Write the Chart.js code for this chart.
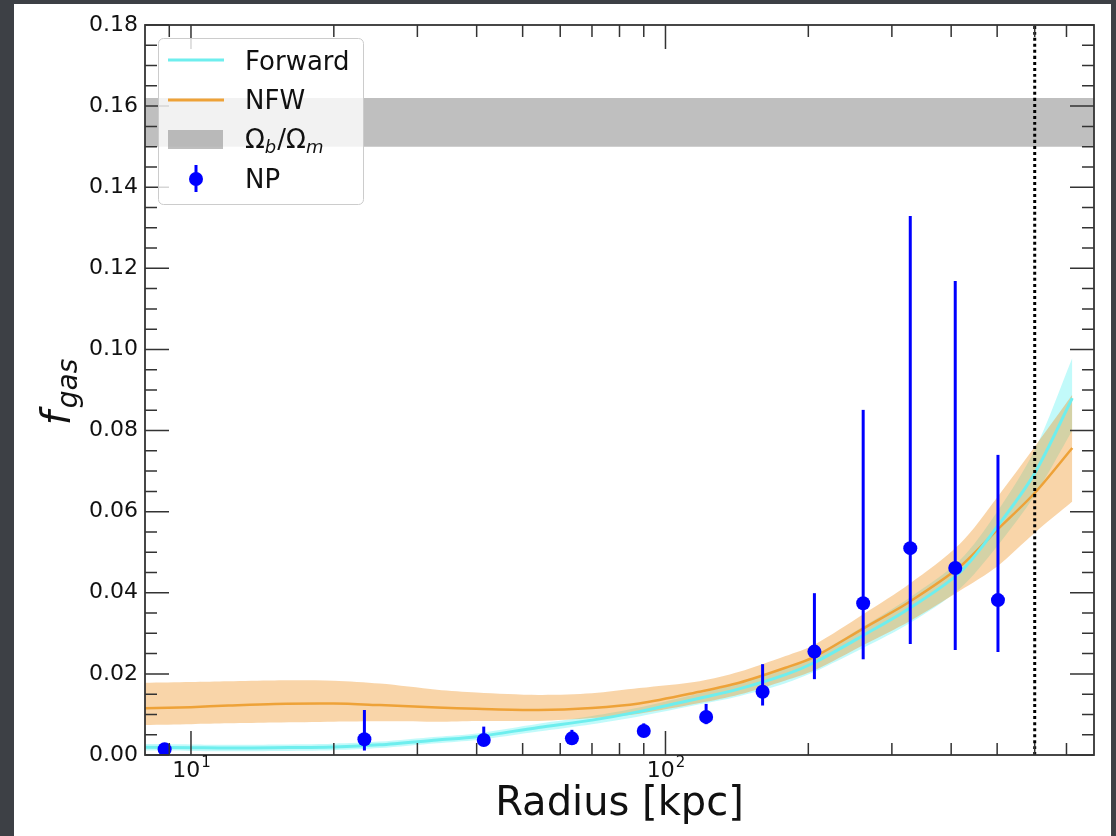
<!DOCTYPE html>
<html>
<head>
<meta charset="utf-8">
<script src="https://cdn.jsdelivr.net/npm/chart.js@4.4.1/dist/chart.umd.min.js"></script>
<style>
html, body { margin: 0; padding: 0; background: #3d4045; }
canvas { display: block; }
</style>
</head>
<body>
<canvas id="fgaschart" width="1116" height="836"></canvas>
<script>
// radius grid of the model curves (kpc)
var modelR = [8, 10, 12, 15, 20, 25, 33, 40, 54, 70, 88, 118, 143, 179, 206, 262, 327, 417, 500, 600, 720];

// Forward model
var forwardMid = [0.0019, 0.0018, 0.0017, 0.0018, 0.0020, 0.0025, 0.0037, 0.0045, 0.0068, 0.0086, 0.0107, 0.0140, 0.0163, 0.0198, 0.0228, 0.0296, 0.0362, 0.0450, 0.0563, 0.0695, 0.0880];
var forwardHi  = [0.0027, 0.0026, 0.0025, 0.0026, 0.0028, 0.0033, 0.0045, 0.0053, 0.0077, 0.0096, 0.0117, 0.0152, 0.0177, 0.0214, 0.0245, 0.0318, 0.0388, 0.0480, 0.0600, 0.0752, 0.0979];
var forwardLo  = [0.0011, 0.0010, 0.0009, 0.0010, 0.0012, 0.0017, 0.0029, 0.0037, 0.0058, 0.0076, 0.0095, 0.0125, 0.0145, 0.0177, 0.0205, 0.0265, 0.0325, 0.0410, 0.0515, 0.0640, 0.0800];

// NFW model
var nfwMid = [0.0115, 0.0118, 0.0122, 0.0126, 0.0127, 0.0123, 0.0117, 0.0114, 0.0111, 0.0116, 0.0127, 0.0156, 0.0178, 0.0215, 0.0242, 0.0313, 0.0378, 0.0464, 0.0555, 0.0646, 0.0757];
var nfwHi  = [0.0178, 0.0180, 0.0182, 0.0184, 0.0183, 0.0176, 0.0161, 0.0154, 0.0148, 0.0152, 0.0165, 0.0182, 0.0205, 0.0244, 0.0272, 0.0348, 0.0422, 0.0520, 0.0635, 0.0760, 0.0888];
var nfwLo  = [0.0074, 0.0076, 0.0078, 0.0080, 0.0082, 0.0083, 0.0082, 0.0084, 0.0084, 0.0091, 0.0102, 0.0128, 0.0149, 0.0184, 0.0209, 0.0272, 0.0330, 0.0405, 0.0465, 0.0548, 0.0625];

// NP (non-parametric) points
var npR  = [8.8, 23.2, 41.4, 63.5, 90.0, 121.8, 160.2, 206, 261, 328, 408, 502];
var npF  = [0.0014, 0.0039, 0.0037, 0.0041, 0.0059, 0.0094, 0.0156, 0.0255, 0.0374, 0.0510, 0.0461, 0.0382];
var npLo = [0.0010, 0.0011, 0.0025, 0.0030, 0.0045, 0.0076, 0.0122, 0.0187, 0.0236, 0.0274, 0.0259, 0.0254];
var npHi = [0.0018, 0.0111, 0.0070, 0.0062, 0.0078, 0.0126, 0.0224, 0.0399, 0.0851, 0.1329, 0.1169, 0.0740];

// cosmic baryon fraction band and r500 marker
var baryonBand = [0.150, 0.162];
var r500 = 600;

// axes
var xRange = [8, 800];
var yRange = [0, 0.18];
var xMajorTicks = [10, 100];
var xMinorTicks = [9, 20, 30, 40, 50, 60, 70, 80, 90, 200, 300, 400, 500, 600, 700];
var yMajorTicks = [0, 0.02, 0.04, 0.06, 0.08, 0.10, 0.12, 0.14, 0.16, 0.18];
var yMinorStep = 0.005;

var FONT = "'DejaVu Sans', sans-serif";
var cyanLine = '#6eeeee', cyanBand = 'rgba(0,235,235,0.24)';
var orangeLine = '#eea238', orangeBand = 'rgba(240,150,40,0.40)';
var greyBand = 'rgba(128,128,128,0.5)';
var npColor = '#0000ff';
var axisColor = '#333333';

function pts(xs, ys) {
    return xs.map(function (x, i) { return { x: x, y: ys[i] }; });
}

var NP_INDEX = 9;

var decor = {
    id: 'decor',
    beforeDraw: function (chart) {
        var c = chart.ctx;
        c.save();
        c.fillStyle = '#3d4045';
        c.fillRect(0, 0, chart.width, chart.height);
        c.fillStyle = '#ffffff';
        c.fillRect(14, 4, 1097, 832);
        c.restore();
    },
    beforeDatasetDraw: function (chart, args) {
        if (args.index !== NP_INDEX) return;
        var c = chart.ctx, xs = chart.scales.x, ys = chart.scales.y;
        c.save();
        c.strokeStyle = npColor;
        c.lineWidth = 3;
        for (var i = 0; i < npR.length; i++) {
            var px = xs.getPixelForValue(npR[i]);
            c.beginPath();
            c.moveTo(px, ys.getPixelForValue(npLo[i]));
            c.lineTo(px, ys.getPixelForValue(npHi[i]));
            c.stroke();
        }
        c.restore();
    },
    afterDraw: function (chart) {
        var c = chart.ctx, a = chart.chartArea;
        var xs = chart.scales.x, ys = chart.scales.y;
        c.save();

        // inward ticks on all sides
        c.strokeStyle = axisColor;
        c.lineWidth = 1.5;
        function tickX(v, len) {
            var px = xs.getPixelForValue(v);
            c.beginPath();
            c.moveTo(px, a.bottom); c.lineTo(px, a.bottom - len);
            c.moveTo(px, a.top); c.lineTo(px, a.top + len);
            c.stroke();
        }
        function tickY(v, len) {
            var py = ys.getPixelForValue(v);
            c.beginPath();
            c.moveTo(a.left, py); c.lineTo(a.left + len, py);
            c.moveTo(a.right, py); c.lineTo(a.right - len, py);
            c.stroke();
        }
        xMajorTicks.forEach(function (v) { tickX(v, 24); });
        xMinorTicks.forEach(function (v) { tickX(v, 12); });
        yMajorTicks.forEach(function (v) { tickY(v, 24); });
        for (var k = 0; k * yMinorStep <= yRange[1] + 1e-9; k++) {
            if (k % 4 !== 0) tickY(k * yMinorStep, 12);
        }

        // spines
        c.lineWidth = 1.8;
        c.strokeRect(a.left, a.top, a.right - a.left, a.bottom - a.top);

        // x tick labels 10^n
        c.fillStyle = '#111';
        c.textBaseline = 'alphabetic';
        c.textAlign = 'left';
        xMajorTicks.forEach(function (v) {
            var px = xs.getPixelForValue(v);
            var base = '10', sup = String(Math.round(Math.log10(v)));
            c.font = '22px ' + FONT;
            var w1 = c.measureText(base).width;
            c.font = '15px ' + FONT;
            var w2 = c.measureText(sup).width;
            var x0 = px - (w1 + w2) / 2;
            c.font = '22px ' + FONT;
            c.fillText(base, x0, 777);
            c.font = '15px ' + FONT;
            c.fillText(sup, x0 + w1 + 1, 767);
        });

        // axis titles
        c.font = '40px ' + FONT;
        c.textAlign = 'center';
        c.fillText('Radius [kpc]', (a.left + a.right) / 2, 815);

        c.save();
        c.translate(70, 392);
        c.rotate(-Math.PI / 2);
        c.textAlign = 'left';
        c.font = 'italic 40px ' + FONT;
        var wf = c.measureText('f').width;
        c.font = 'italic 28px ' + FONT;
        var wg = c.measureText('gas').width;
        var sx = -(wf + wg + 3) / 2;
        c.font = 'italic 40px ' + FONT;
        c.fillText('f', sx, 0);
        c.font = 'italic 28px ' + FONT;
        c.fillText('gas', sx + wf + 3, 7);
        c.restore();

        // legend
        c.beginPath();
        c.roundRect(158.5, 38.5, 205, 166, 5);
        c.fillStyle = 'rgba(255,255,255,0.8)';
        c.fill();
        c.strokeStyle = '#cccccc';
        c.lineWidth = 1;
        c.stroke();

        c.lineWidth = 3;
        c.strokeStyle = cyanLine;
        c.beginPath(); c.moveTo(168, 60); c.lineTo(224, 60); c.stroke();
        c.strokeStyle = orangeLine;
        c.beginPath(); c.moveTo(168, 100); c.lineTo(224, 100); c.stroke();
        c.fillStyle = greyBand;
        c.fillRect(168, 130, 55, 19);
        c.strokeStyle = npColor;
        c.beginPath(); c.moveTo(196, 165); c.lineTo(196, 192); c.stroke();
        c.fillStyle = npColor;
        c.beginPath(); c.arc(196, 179, 7, 0, Math.PI * 2); c.fill();

        c.fillStyle = '#111';
        c.textAlign = 'left';
        c.font = '26px ' + FONT;
        c.fillText('Forward', 245, 70);
        c.fillText('NFW', 245, 109);
        c.fillText('NP', 245, 188);
        var x = 245;
        c.fillText('\u03A9', x, 148); x += c.measureText('\u03A9').width;
        c.font = 'italic 18px ' + FONT;
        c.fillText('b', x, 153); x += c.measureText('b').width + 1;
        c.font = '26px ' + FONT;
        c.fillText('/\u03A9', x, 148); x += c.measureText('/\u03A9').width;
        c.font = 'italic 18px ' + FONT;
        c.fillText('m', x, 153);

        c.restore();
    }
};

var lineStyle = { pointRadius: 0, pointHoverRadius: 0, tension: 0.3 };

var ctx = document.getElementById('fgaschart').getContext('2d');
var chart = new Chart(ctx, {
    type: 'line',
    data: {
        datasets: [
            Object.assign({ data: pts(xRange, [baryonBand[1], baryonBand[1]]), borderWidth: 0, fill: '+1', backgroundColor: greyBand, order: 10 }, lineStyle),
            Object.assign({ data: pts(xRange, [baryonBand[0], baryonBand[0]]), borderWidth: 0, fill: false, order: 10 }, lineStyle),
            Object.assign({ data: pts(modelR, forwardHi), borderWidth: 0, fill: '+1', backgroundColor: cyanBand, order: 9 }, lineStyle),
            Object.assign({ data: pts(modelR, forwardLo), borderWidth: 0, fill: false, order: 9 }, lineStyle),
            Object.assign({ data: pts(modelR, nfwHi), borderWidth: 0, fill: '+1', backgroundColor: orangeBand, order: 8 }, lineStyle),
            Object.assign({ data: pts(modelR, nfwLo), borderWidth: 0, fill: false, order: 8 }, lineStyle),
            Object.assign({ data: pts(modelR, nfwMid), borderColor: orangeLine, borderWidth: 2.5, fill: false, order: 6 }, lineStyle),
            Object.assign({ data: pts(modelR, forwardMid), borderColor: cyanLine, borderWidth: 3, fill: false, order: 5 }, lineStyle),
            Object.assign({ data: pts([r500, r500], yRange), borderColor: '#000', borderWidth: 3, borderDash: [3, 3], fill: false, order: 4 }, lineStyle),
            {
                data: pts(npR, npF), showLine: false, pointRadius: 7, pointHoverRadius: 7,
                pointBackgroundColor: npColor, pointBorderWidth: 0, order: 1
            }
        ]
    },
    options: {
        responsive: false,
        animation: false,
        events: [],
        devicePixelRatio: 1,
        layout: { padding: { left: 0, right: 22, top: 25, bottom: 0 } },
        plugins: { legend: { display: false }, tooltip: { enabled: false } },
        scales: {
            x: {
                type: 'logarithmic', min: xRange[0], max: xRange[1],
                grid: { display: false, drawTicks: false },
                border: { display: false },
                ticks: { display: false },
                afterFit: function (s) { s.height = 81; }
            },
            y: {
                type: 'linear', min: yRange[0], max: yRange[1],
                grid: { display: false, drawTicks: false },
                border: { display: false },
                afterBuildTicks: function (s) { s.ticks = yMajorTicks.map(function (v) { return { value: v }; }); },
                ticks: {
                    padding: 7, color: '#111',
                    font: { family: FONT, size: 22 },
                    callback: function (v) { return Number(v).toFixed(2); }
                },
                afterFit: function (s) { s.width = 145; }
            }
        }
    },
    plugins: [decor]
});
</script>
</body>
</html>
